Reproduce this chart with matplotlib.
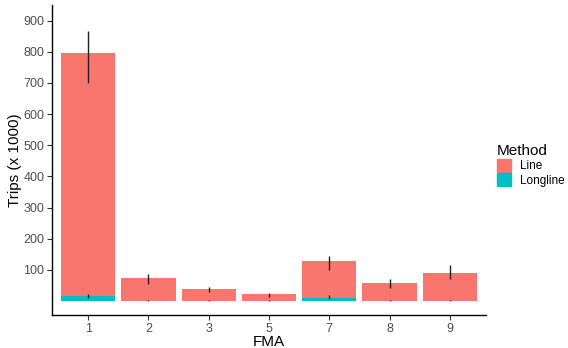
import numpy as np
import matplotlib
matplotlib.use("Agg")
import matplotlib.pyplot as plt
from matplotlib.patches import Patch

plt.rcParams['font.family'] = ['Liberation Sans', 'DejaVu Sans']

fma = ["1", "2", "3", "5", "7", "8", "9"]
line_trips = [795, 74, 39, 21, 129, 58, 90]
line_lo = [699, 55, 29, 14, 100, 42, 71]
line_hi = [868, 88, 46, 27, 145, 71, 116]
longline_trips = [17, 1.5, 1.5, 1.5, 11, 1.5, 1.5]
longline_lo = [11, -1, -1, -1, 5, -1, -1]
longline_hi = [23, 4, 4, 4, 18, 4, 4]

c_line = "#F8766D"
c_long = "#00BFC4"

fig = plt.figure(figsize=(5.68, 3.48), dpi=100)
ax = fig.add_axes([52/568, 1 - 315/348, (486-52)/568, (315-5)/348])

x = np.arange(len(fma))
ax.bar(x, line_trips, width=0.9, color=c_line, zorder=2)
ax.bar(x, longline_trips, width=0.9, color=c_long, zorder=2)
ax.vlines(x, line_lo, line_hi, color="#222222", lw=1, zorder=3)
ax.vlines(x, longline_lo, longline_hi, color="#222222", lw=1, zorder=3)

ax.set_xlim(-0.6, len(fma) - 0.4)
ax.set_ylim(-45, 950)
ax.set_xticks(x)
ax.set_xticklabels(fma)
ax.set_yticks(range(100, 1000, 100))

for s in ["top", "right"]:
    ax.spines[s].set_visible(False)
for s in ["left", "bottom"]:
    ax.spines[s].set_linewidth(1.0)
    ax.spines[s].set_color("black")
ax.tick_params(axis="both", length=3.5, width=0.8, color="#333333",
               labelsize=9, labelcolor="#4D4D4D", pad=2)

ax.set_xlabel("FMA", fontsize=11, labelpad=0)
ax.set_ylabel("Trips (x 1000)", fontsize=11, labelpad=1)

handles = [Patch(color=c_line, label="Line"), Patch(color=c_long, label="Longline")]
leg = fig.legend(handles=handles, title="Method", loc="upper left",
                 bbox_to_anchor=(486/568, 1 - 133/348), frameon=False,
                 fontsize=8.5, title_fontsize=11, handlelength=1.2,
                 handleheight=1.3, handletextpad=0.8, labelspacing=0.1)
leg._legend_box.align = "left"

fig.savefig("out.png", dpi=100)
